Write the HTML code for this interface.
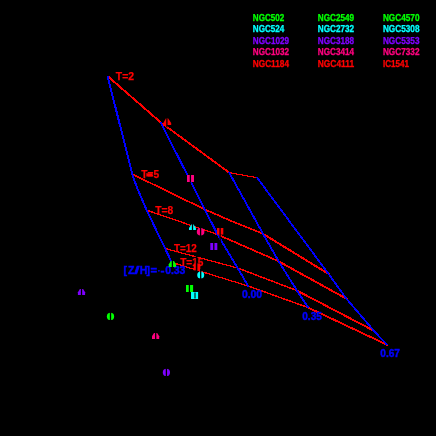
<!DOCTYPE html>
<html><head><meta charset="utf-8">
<style>
html,body{margin:0;padding:0;background:#000;}
body{width:436px;height:436px;overflow:hidden;}
svg{display:block;will-change:transform;transform:translateZ(0);}
text{font-family:"Liberation Sans",sans-serif;font-weight:bold;}
</style></head><body>
<svg width="436" height="436" viewBox="0 0 436 436">
<rect width="436" height="436" fill="#000"/>
<!-- age (red) lines -->
<g shape-rendering="crispEdges" fill="none" stroke="#ff0000" stroke-linejoin="round" stroke-linecap="square">
<g transform="translate(-0.5,0)">
<g stroke-width="1.3"><polyline points="107.6,76.1 160.6,122.3 229.2,172.6"/><polyline points="132.4,174.2 204.9,209.5 230,220.4 263,233.8"/><polyline points="217.5,234.5 278.6,261.3"/></g>
<g stroke-width="1"><polyline points="229.2,172.6 257.1,177.7"/><polyline points="146.7,210.2 217.5,234.5"/><polyline points="165.1,248.5 237.6,268"/><polyline points="171.8,262.4 248.3,286.1"/></g>
<g stroke-width="1.15"><polyline points="237.6,268 297,290.6"/><polyline points="248.3,286.1 308.2,307.6"/></g>
<g stroke-width="1.45"><polyline points="263,233.8 328.6,274"/><polyline points="278.6,261.3 346.5,298.8"/><polyline points="297,290.6 373.9,330.8"/><polyline points="308.2,307.6 386.7,344.6"/></g>
</g>
<g transform="translate(0.5,0)">
<g stroke-width="1.3"><polyline points="107.6,76.1 160.6,122.3 229.2,172.6"/><polyline points="132.4,174.2 204.9,209.5 230,220.4 263,233.8"/><polyline points="217.5,234.5 278.6,261.3"/></g>
<g stroke-width="1"><polyline points="229.2,172.6 257.1,177.7"/><polyline points="146.7,210.2 217.5,234.5"/><polyline points="165.1,248.5 237.6,268"/><polyline points="171.8,262.4 248.3,286.1"/></g>
<g stroke-width="1.15"><polyline points="237.6,268 297,290.6"/><polyline points="248.3,286.1 308.2,307.6"/></g>
<g stroke-width="1.45"><polyline points="263,233.8 328.6,274"/><polyline points="278.6,261.3 346.5,298.8"/><polyline points="297,290.6 373.9,330.8"/><polyline points="308.2,307.6 386.7,344.6"/></g>
</g>
</g>
<!-- metallicity (blue) lines -->
<g shape-rendering="crispEdges" fill="none" stroke="#0000ff" stroke-width="1" stroke-linejoin="round" stroke-linecap="square">
<g transform="translate(-0.5,0)">
<polyline points="107.6,76.1 132.3,174.3 137.1,188 146.7,210.2 165.1,248.5 171.8,262.4"/>
<polyline points="160.6,122.3 204.9,209.5 217.5,234.5 237.6,268 248.3,286.1"/>
<polyline points="229.2,172.6 263,233.8 278.6,261.3 297,290.6 308.2,307.6"/>
<polyline points="257.1,177.7 328.6,274 346.5,298.8 373.9,330.8 386.7,344.6"/>
</g>
<g transform="translate(0.5,0)">
<polyline points="107.6,76.1 132.3,174.3 137.1,188 146.7,210.2 165.1,248.5 171.8,262.4"/>
<polyline points="160.6,122.3 204.9,209.5 217.5,234.5 237.6,268 248.3,286.1"/>
<polyline points="229.2,172.6 263,233.8 278.6,261.3 297,290.6 308.2,307.6"/>
<polyline points="257.1,177.7 328.6,274 346.5,298.8 373.9,330.8 386.7,344.6"/>
</g>
</g>
<!-- labels -->
<g font-size="10.5" fill="#ff0000" stroke="#ff0000" stroke-width="0.25">
<text x="115.8" y="80" textLength="18.3" lengthAdjust="spacingAndGlyphs">T=2</text>
<text x="141.3" y="178" textLength="17.8" lengthAdjust="spacingAndGlyphs">T=5</text><rect x="146.4" y="173.4" width="6.2" height="2.9"/>
<text x="155.3" y="213.8" textLength="18" lengthAdjust="spacingAndGlyphs">T=8</text>
<text x="173.9" y="252.1" textLength="22.8" lengthAdjust="spacingAndGlyphs" font-size="10.1">T=12</text>
<text x="180.2" y="266" textLength="23.3" lengthAdjust="spacingAndGlyphs">T=15</text>
</g>
<g font-size="10.5" fill="#0000ff" stroke="#0000ff" stroke-width="0.45">
<text x="123.6 127.9" y="274.2">[Z</text><text x="134.2" y="274.2" textLength="5.3" lengthAdjust="spacingAndGlyphs">/</text><text x="139.7 146.5" y="274.2">H]</text><text x="150.6" y="274.2" textLength="6.6" lengthAdjust="spacingAndGlyphs">=</text><text x="160.4" y="274.2" textLength="4" lengthAdjust="spacingAndGlyphs">-</text><text x="165.2" y="274.2" textLength="20.2" lengthAdjust="spacingAndGlyphs">0.33</text><rect x="158.6" y="270.3" width="1" height="1" fill="#0000ff"/>
<text x="241.9" y="297.5" textLength="20.2" lengthAdjust="spacingAndGlyphs">0.00</text>
<text x="302.3" y="319.9" textLength="19.5" lengthAdjust="spacingAndGlyphs">0.35</text>
<text x="380.3" y="357" textLength="19.7" lengthAdjust="spacingAndGlyphs">0.67</text>
</g>
<!-- legend -->
<g font-size="10.1" text-rendering="geometricPrecision">
<g fill="#00ff00" stroke="#00ff00" stroke-width="0.35"><text x="252.8" y="20.8" textLength="31.5" lengthAdjust="spacingAndGlyphs">NGC502</text><text x="317.8" y="20.8" textLength="36.3" lengthAdjust="spacingAndGlyphs">NGC2549</text><text x="382.9" y="20.8" textLength="36.6" lengthAdjust="spacingAndGlyphs">NGC4570</text></g>
<g fill="#00ffff" stroke="#00ffff" stroke-width="0.35"><text x="252.8" y="32.3" textLength="31.5" lengthAdjust="spacingAndGlyphs">NGC524</text><text x="317.8" y="32.3" textLength="36.3" lengthAdjust="spacingAndGlyphs">NGC2732</text><text x="382.9" y="32.3" textLength="36.6" lengthAdjust="spacingAndGlyphs">NGC5308</text></g>
<g fill="#7f00ff" stroke="#7f00ff" stroke-width="0.35"><text x="252.8" y="43.7" textLength="36.2" lengthAdjust="spacingAndGlyphs">NGC1029</text><text x="317.8" y="43.7" textLength="36.3" lengthAdjust="spacingAndGlyphs">NGC3188</text><text x="382.9" y="43.7" textLength="36.6" lengthAdjust="spacingAndGlyphs">NGC5353</text></g>
<g fill="#ff007f" stroke="#ff007f" stroke-width="0.35"><text x="252.8" y="55.2" textLength="36.2" lengthAdjust="spacingAndGlyphs">NGC1032</text><text x="317.8" y="55.2" textLength="36.3" lengthAdjust="spacingAndGlyphs">NGC3414</text><text x="382.9" y="55.2" textLength="36.6" lengthAdjust="spacingAndGlyphs">NGC7332</text></g>
<g fill="#ff0000" stroke="#ff0000" stroke-width="0.35"><text x="252.8" y="66.7" textLength="36.2" lengthAdjust="spacingAndGlyphs">NGC1184</text><text x="317.8" y="66.7" textLength="36.3" lengthAdjust="spacingAndGlyphs">NGC4111</text><text x="382.9" y="66.7" textLength="26.1" lengthAdjust="spacingAndGlyphs">IC1541</text></g>
</g>
<!-- markers -->
<g id="mk">
<!-- triangles -->
<polygon points="166,118.2 168,118.2 171.2,123 171.2,125.1 163.2,125.1 163.2,123.3" fill="#ff0000"/>
<polygon points="191.6,224.2 193.4,224.2 195.9,228 195.9,230.1 189,230.1 189,228" fill="#00ffff"/>
<polygon points="170.8,260.9 174.0,260.9 176.0,264.3 176.0,267.0 168.8,267.0 168.8,264.3" fill="#00ff00"/>
<polygon points="79.9,288.9 83.1,288.9 85.1,292.3 85.1,295.0 77.9,295.0 77.9,292.3" fill="#7f00ff"/>
<polygon points="154.0,332.9 157.2,332.9 159.2,336.3 159.2,339.0 152.0,339.0 152.0,336.3" fill="#ff007f"/>
<!-- squares -->
<rect x="187" y="175" width="7" height="7" fill="#ff007f"/>
<rect x="217" y="228" width="6.3" height="6.6" fill="#ff0000"/>
<rect x="210.3" y="243" width="7" height="7" fill="#7f00ff"/>
<rect x="193.7" y="263.4" width="6.6" height="7" fill="#ff0000"/>
<rect x="186" y="285" width="7.1" height="7" fill="#00ff00"/>
<rect x="191" y="292" width="7.1" height="7" fill="#00ffff"/>
<!-- circles -->
<circle cx="200.6" cy="231.8" r="3.8" fill="#ff007f"/>
<circle cx="200.7" cy="275" r="3.5" fill="#00ffff"/>
<circle cx="110.5" cy="316.4" r="3.65" fill="#00ff00"/>
<circle cx="166.4" cy="372.4" r="3.6" fill="#7f00ff"/>
<!-- black error bars -->
<g stroke="#000" stroke-width="1.3">
<line x1="166.9" y1="112" x2="166.9" y2="127.2"/>
<line x1="192.5" y1="223" x2="192.5" y2="230.6"/>
<line x1="172.4" y1="255" x2="172.4" y2="268"/>
<line x1="81.5" y1="282" x2="81.5" y2="301"/>
<line x1="155.7" y1="326" x2="155.7" y2="345"/>
<line x1="190.4" y1="174" x2="190.4" y2="182.6"/>
<line x1="220.1" y1="222" x2="220.1" y2="241"/>
<line x1="213.8" y1="237" x2="213.8" y2="256"/>
<line x1="196.6" y1="256" x2="196.6" y2="271.6" stroke-width="1.6"/>
<line x1="189.4" y1="279" x2="189.4" y2="298"/>
<rect x="194.1" y="292.5" width="1.8" height="6" fill="#006464" stroke="none"/>
<line x1="200.6" y1="225" x2="200.6" y2="239"/>
<line x1="200.7" y1="269" x2="200.7" y2="281"/>
<line x1="110.5" y1="310" x2="110.5" y2="323"/>
<line x1="166.4" y1="366" x2="166.4" y2="379"/>
</g>
</g>
</svg>
</body></html>
